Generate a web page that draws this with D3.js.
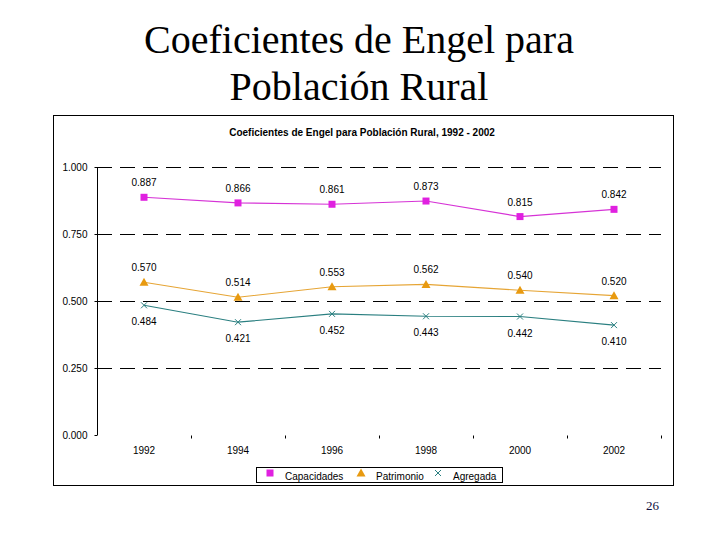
<!DOCTYPE html>
<html><head><meta charset="utf-8">
<script src="https://cdn.jsdelivr.net/npm/d3@7"></script>
<style>body{margin:0;background:#fff}svg{display:block}.serif{font-family:'Liberation Serif','Times New Roman',serif}</style>
</head><body>
<svg id="c" width="720" height="540"></svg>
<script>
const years = ["1992","1994","1996","1998","2000","2002"];
const capacidades = [0.887,0.866,0.861,0.873,0.815,0.842];
const patrimonio  = [0.570,0.514,0.553,0.562,0.540,0.520];
const agregada    = [0.484,0.421,0.452,0.443,0.442,0.410];
const yTicks = [0,0.25,0.5,0.75,1.0];
const seriesNames = ["Capacidades","Patrimonio","Agregada"];

const series = [
  {name:seriesNames[0], values:capacidades, color:"#d633d6", mcolor:"#e020e0", marker:"square", labelDy:-11},
  {name:seriesNames[1], values:patrimonio, color:"#e6a535", mcolor:"#e89a10", marker:"triangle", labelDy:-11},
  {name:seriesNames[2], values:agregada, color:"#2a7f80", mcolor:"#2a7f80", marker:"cross", labelDy:20}
];

const svg = d3.select("#c");
svg.append("text").attr("class","serif").attr("x",359).attr("y",53).attr("text-anchor","middle")
  .attr("font-size",40).text("Coeficientes de Engel para");
svg.append("text").attr("class","serif").attr("x",359).attr("y",100).attr("text-anchor","middle")
  .attr("font-size",40).text("Población Rural");
svg.append("text").attr("class","serif").attr("x",659).attr("y",510).attr("text-anchor","end")
  .attr("font-size",13).attr("fill","#101040").text("26");

svg.append("rect").attr("x",53.5).attr("y",115.5).attr("width",620).attr("height",370)
  .attr("fill","#fff").attr("stroke","#000").attr("stroke-width",1);

const F = "'Liberation Sans', Arial, sans-serif";
svg.append("text").attr("x",362).attr("y",136).attr("text-anchor","middle")
  .attr("font-family",F).attr("font-weight","bold").attr("font-size",10)
  .text("Coeficientes de Engel para Población Rural, 1992 - 2002");

const x = d3.scaleBand().domain(years).range([97,661]);
const y = d3.scaleLinear().domain([0,1]).range([435,167]);

// gridlines
svg.append("g").selectAll("line").data(yTicks.filter(d=>d>0)).join("line")
  .attr("x1",97).attr("x2",661).attr("y1",d=>Math.round(y(d))+0.5).attr("y2",d=>Math.round(y(d))+0.5)
  .attr("stroke","#000").attr("stroke-width",1).attr("stroke-dasharray","15,8");

// y axis
const ya = svg.append("g").attr("transform","translate(97.5,0)")
  .call(d3.axisLeft(y).tickValues(yTicks).tickFormat(d3.format(".3f")).tickSize(3).tickPadding(7));
ya.select(".domain").attr("d","M0,"+y(1)+"V"+y(0)).attr("stroke","#000");
ya.selectAll("text").attr("font-family",F).attr("font-size",10).attr("fill","#000");

// x axis: tick marks at band boundaries, no baseline
const xa = svg.append("g").attr("transform","translate(0,"+(y(0)+0.5)+")");
const bounds = years.map(d=>x(d)).concat([x(years[years.length-1])+x.bandwidth()]).slice(1);
xa.selectAll("line").data(bounds).join("line")
  .attr("x1",d=>Math.round(d)+0.5).attr("x2",d=>Math.round(d)+0.5).attr("y1",0).attr("y2",3).attr("stroke","#000");
xa.selectAll("text").data(years).join("text")
  .attr("x",d=>x(d)+x.bandwidth()/2).attr("y",18).attr("text-anchor","middle")
  .attr("font-family",F).attr("font-size",10).text(d=>d);

const line = d3.line().x((d,i)=>x(years[i])+x.bandwidth()/2).y(d=>y(d));

function drawMarker(g, type, color, cx, cy){
  if(type==="square"){
    g.append("rect").attr("x",cx-3.5).attr("y",cy-3.5).attr("width",7).attr("height",7).attr("fill",color);
  } else if(type==="triangle"){
    g.append("path").attr("d",`M${cx},${cy-4.5}L${cx+4.5},${cy+3.5}L${cx-4.5},${cy+3.5}Z`).attr("fill",color);
  } else {
    g.append("path").attr("d",`M${cx-3},${cy-3}L${cx+3},${cy+3}M${cx+3},${cy-3}L${cx-3},${cy+3}`)
      .attr("stroke",color).attr("stroke-width",1).attr("fill","none");
  }
}

series.forEach(s=>{
  const g = svg.append("g");
  g.append("path").datum(s.values).attr("d",line).attr("fill","none").attr("stroke",s.color).attr("stroke-width",1.1);
  s.values.forEach((v,i)=>{
    const cx = x(years[i])+x.bandwidth()/2, cy = y(v);
    drawMarker(g, s.marker, s.mcolor, cx, cy);
    g.append("text").attr("x",cx).attr("y",cy+s.labelDy).attr("text-anchor","middle")
      .attr("font-family",F).attr("font-size",10).attr("fill","#000").text(d3.format(".3f")(v));
  });
});

// legend
const lg = svg.append("g");
lg.append("rect").attr("x",256.5).attr("y",467.5).attr("width",246).attr("height",15).attr("fill","#fff").attr("stroke","#000");
const lx = [270,361,438];
series.forEach((s,i)=>{
  drawMarker(lg, s.marker, s.mcolor, lx[i], 473);
  lg.append("text").attr("x",lx[i]+15).attr("y",479.5).attr("font-family",F).attr("font-size",10).text(s.name);
});
</script>
</body></html>
